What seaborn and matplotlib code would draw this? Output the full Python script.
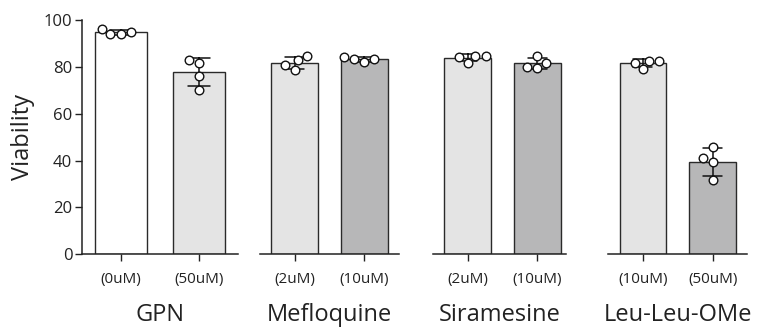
import matplotlib
matplotlib.use("Agg")
import matplotlib.pyplot as plt
import seaborn as sns
import pandas as pd

# drug groups, doses and replicate viability values (4 per dose)
drugs = ["GPN", "Mefloquine", "Siramesine", "Leu-Leu-OMe"]
doses = {
    "GPN": ["(0uM)", "(50uM)"],
    "Mefloquine": ["(2uM)", "(10uM)"],
    "Siramesine": ["(2uM)", "(10uM)"],
    "Leu-Leu-OMe": ["(10uM)", "(50uM)"],
}
gpn_0 = [94.7, 93.9, 93.9, 96.3]
gpn_50 = [81.5, 83.1, 76.0, 70.1]
meflo_2 = [84.8, 82.9, 80.8, 78.8]
meflo_10 = [83.2, 81.9, 83.2, 84.3]
sira_2 = [84.8, 81.8, 84.3, 84.8]
sira_10 = [84.6, 81.8, 79.5, 80.1]
llome_10 = [82.5, 79.0, 81.8, 82.6]
llome_50 = [45.9, 41.0, 39.4, 31.7]

values = {
    "GPN": [gpn_0, gpn_50],
    "Mefloquine": [meflo_2, meflo_10],
    "Siramesine": [sira_2, sira_10],
    "Leu-Leu-OMe": [llome_10, llome_50],
}
bar_colors = {
    "GPN": ["#ffffff", "#e4e4e4"],
    "Mefloquine": ["#e4e4e4", "#b7b7b8"],
    "Siramesine": ["#e4e4e4", "#b7b7b8"],
    "Leu-Leu-OMe": ["#e4e4e4", "#b7b7b8"],
}

sns.set_style("ticks")
plt.rcParams["font.family"] = ["Open Sans", "DejaVu Sans"]

W, H = 757, 331
fig = plt.figure(figsize=(W / 100, H / 100), dpi=100)

# axes extents in pixels (left, right) and x limits
panels = [(82, 238, 1.5), (260, 399, 1.5), (433, 566, 1.41), (608, 747, 1.49)]
y0, y1 = 254.3, 20

for i, drug in enumerate(drugs):
    l, r, xmax = panels[i]
    ax = fig.add_axes([l / W, (H - y0) / H, (r - l) / W, (y0 - y1) / H])

    rows = []
    for dose, vals in zip(doses[drug], values[drug]):
        for v in vals:
            rows.append({"dose": dose, "viability": v})
    df = pd.DataFrame(rows)
    pal = dict(zip(doses[drug], bar_colors[drug]))

    sns.barplot(data=df, x="dose", y="viability", hue="dose", palette=pal,
                order=doses[drug], hue_order=doses[drug], legend=False,
                errorbar="sd", capsize=0.27, width=0.67,
                edgecolor="#2a2a2a", linewidth=1.0,
                err_kws={"color": "#111111", "linewidth": 1.1}, ax=ax)
    sns.swarmplot(data=df, x="dose", y="viability", order=doses[drug],
                  color="white", edgecolor="#111111", linewidth=1.0,
                  size=6.2, ax=ax)

    ax.set_xlim(-0.5, xmax)
    ax.set_ylim(0, 100)
    ax.set_xlabel(drug, fontsize=17, labelpad=11, color="#222222")
    ax.tick_params(axis="x", labelsize=11, length=5, width=1, pad=8,
                   colors="#222222")
    sns.despine(ax=ax, left=(i > 0))
    ax.spines["bottom"].set_linewidth(1.1)
    ax.spines["bottom"].set_color("#222222")
    if i == 0:
        ax.set_yticks([0, 20, 40, 60, 80, 100])
        ax.tick_params(axis="y", labelsize=12, length=5, width=1, pad=2,
                       colors="#222222")
        ax.spines["left"].set_linewidth(1.1)
        ax.spines["left"].set_color("#222222")
        ax.set_ylabel("Viability", fontsize=17, labelpad=6, color="#222222")
    else:
        ax.set_yticks([])
        ax.set_ylabel("")

fig.savefig("out.png", dpi=100)
